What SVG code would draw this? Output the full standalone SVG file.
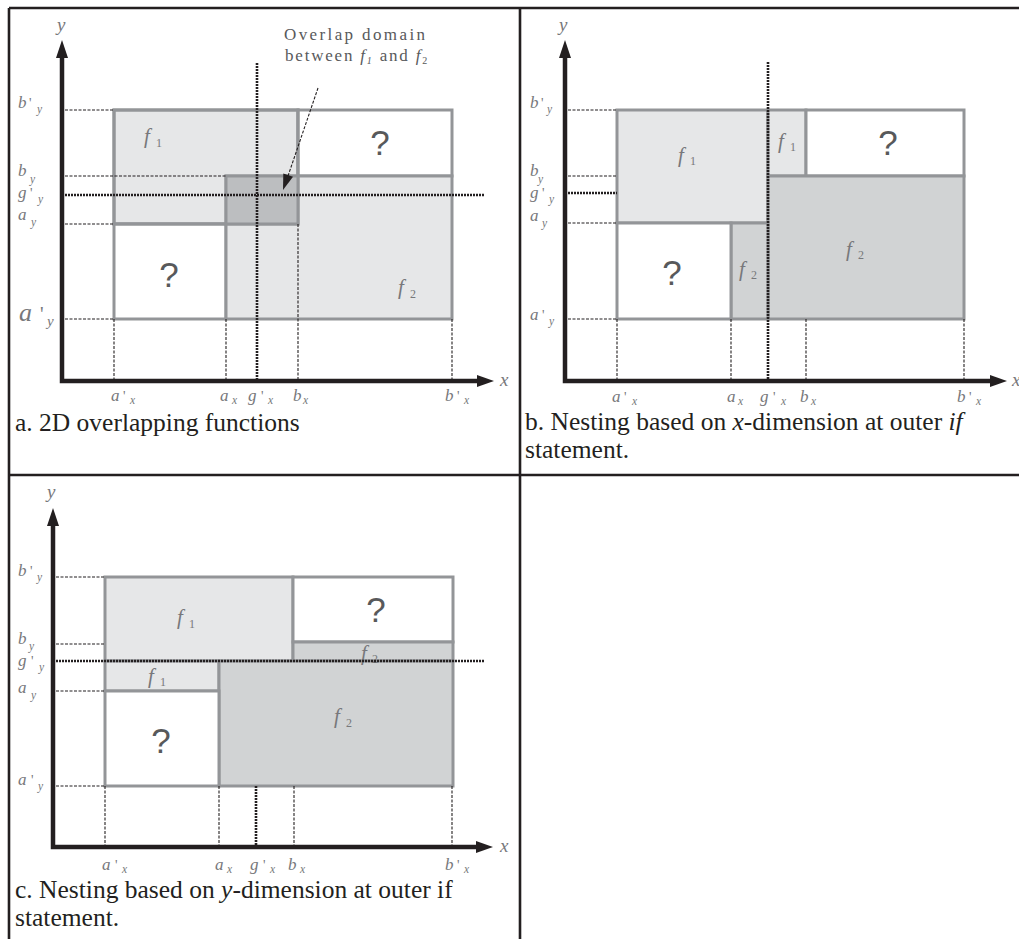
<svg xmlns="http://www.w3.org/2000/svg" width="1019" height="939" viewBox="0 0 1019 939">
  <style>
    .frame { stroke: #231f20; stroke-width: 2.6; fill: none; }
    .axis { stroke: #231f20; stroke-width: 4.5; fill: none; stroke-linejoin: miter; stroke-linecap: square; }
    .head { fill: #231f20; }
    .box { stroke: #939598; stroke-width: 3; }
    .white { fill: #ffffff; }
    .light { fill: #e6e7e8; }
    .mid { fill: #d1d3d4; }
    .dark { fill: #bcbec0; }
    .guide { stroke: #231f20; stroke-width: 1.1; stroke-dasharray: 3 1.5; fill: none; }
    .gline { stroke: #231f20; stroke-width: 2.6; stroke-dasharray: 2 1; fill: none; }
    .lbl { font-family: "Liberation Serif", "Times New Roman", serif; font-style: italic; font-size: 17px; fill: #77787b; }
    .big { font-size: 26px; }
    .sub { font-size: 11.5px; }
    .pr { font-style: normal; font-size: 14px; }
    .ax { font-family: "Liberation Serif", "Times New Roman", serif; font-style: italic; font-size: 19px; fill: #77787b; }
    .fn { font-family: "Liberation Serif", "Times New Roman", serif; font-style: italic; font-size: 21px; fill: #77787b; }
    .fs { font-style: normal; font-size: 12px; }
    .q { font-family: "Liberation Sans", Arial, sans-serif; font-size: 35px; fill: #58595b; text-anchor: middle; }
    .cap { font-family: "Liberation Serif", "Times New Roman", serif; font-size: 25.5px; fill: #231f20; }
    .note { font-family: "Liberation Serif", "Times New Roman", serif; font-size: 17px; fill: #58595b; }
  </style>

  <!-- table frame -->
  <g id="frame">
    <line class="frame" x1="9" y1="8" x2="1019" y2="8"/>
    <line class="frame" x1="9" y1="8" x2="9" y2="939"/>
    <line class="frame" x1="520" y1="8" x2="520" y2="939"/>
    <line class="frame" x1="9" y1="475" x2="1019" y2="475"/>
  </g>

  <!-- ===== panel a: two overlapping function domains ===== -->
  <g id="panel-a">
    <g id="a-f1"><rect class="box light" x="114" y="110" width="184" height="114"/></g>
    <g id="a-q-top"><rect class="box white" x="298" y="110" width="154" height="66"/></g>
    <g id="a-q-bottom"><rect class="box white" x="114" y="224" width="112" height="95"/></g>
    <g id="a-f2"><rect class="box light" x="226" y="176" width="226" height="143"/></g>
    <g id="a-f1-edge"><rect class="box" fill="none" x="114" y="110" width="184" height="114"/></g>
    <g id="a-overlap"><rect class="box dark" x="226" y="176" width="72" height="48"/></g>

    <g id="a-connectors">
      <line class="guide" x1="65" y1="110" x2="114" y2="110"/>
      <line class="guide" x1="65" y1="176" x2="226" y2="176"/>
      <line class="guide" x1="65" y1="224" x2="114" y2="224"/>
      <line class="guide" x1="65" y1="319" x2="114" y2="319"/>
      <line class="guide" x1="114" y1="319" x2="114" y2="380"/>
      <line class="guide" x1="226" y1="319" x2="226" y2="380"/>
      <line class="guide" x1="298" y1="224" x2="298" y2="380"/>
      <line class="guide" x1="452" y1="319" x2="452" y2="380"/>
      <line class="gline" x1="65" y1="195" x2="484" y2="195"/>
      <line class="gline" x1="257" y1="63" x2="257" y2="380"/>
      <polyline class="axis" points="62,57 62,381 478,381"/>
      <polygon class="head" points="62,40 56,58 68,58"/>
      <polygon class="head" points="494,381 477,375 477,387"/>
      <!-- leader to the overlap domain -->
      <line class="guide" x1="318" y1="88" x2="288" y2="176" stroke-dasharray="2 1.5"/>
      <polygon class="head" points="283,190 283.3,173.5 293,176.8"/>
    </g>

    <text class="ax" x="57" y="31">y</text>
    <text class="ax" x="500" y="386">x</text>

    <text class="lbl" x="18" y="108">b<tspan class="pr" x="29">'</tspan><tspan class="sub" x="37" y="113">y</tspan></text>
    <text class="lbl" x="18" y="176">b<tspan class="sub" x="30" y="183">y</tspan></text>
    <text class="lbl" x="18" y="198">g<tspan class="pr" x="30">'</tspan><tspan class="sub" x="38" y="203">y</tspan></text>
    <text class="lbl" x="18" y="220">a<tspan class="sub" x="31" y="226">y</tspan></text>
    <text class="lbl big" x="19" y="321">a<tspan class="pr" x="40" style="font-size:20px">'</tspan><tspan class="sub" x="47" y="326" style="font-size:15px">y</tspan></text>

    <text class="lbl" x="111" y="401">a<tspan class="pr" x="123">'</tspan><tspan class="sub" x="130" y="404">x</tspan></text>
    <text class="lbl" x="220" y="401">a<tspan class="sub" x="232" y="404">x</tspan></text>
    <text class="lbl" x="248" y="401">g<tspan class="pr" x="261">'</tspan><tspan class="sub" x="268" y="404">x</tspan></text>
    <text class="lbl" x="293" y="401">b<tspan class="sub" x="303" y="404">x</tspan></text>
    <text class="lbl" x="445" y="401">b<tspan class="pr" x="457">'</tspan><tspan class="sub" x="464" y="404">x</tspan></text>

    <text class="fn" x="144" y="143">f<tspan class="fs" x="156" y="147">1</tspan></text>
    <text class="fn" x="398" y="294">f<tspan class="fs" x="410" y="298">2</tspan></text>
    <text class="q" x="380" y="155">?</text>
    <text class="q" x="169" y="287">?</text>

    <text class="note" x="284" y="40" textLength="141" lengthAdjust="spacing">Overlap domain</text>
    <text class="note" x="285" y="61" letter-spacing="1.8">between <tspan font-style="italic">f</tspan><tspan dy="3" style="font-size:10px;font-style:italic">1</tspan><tspan dy="-3"> and </tspan><tspan font-style="italic">f</tspan><tspan dy="3" style="font-size:10px">2</tspan></text>

    <text class="cap" x="15" y="431">a. 2D overlapping functions</text>
  </g>

  <!-- ===== panel b: nesting on x at the outer test ===== -->
  <g id="panel-b">
    <g id="b-f1"><rect class="box light" x="617" y="110" width="151" height="113"/></g>
    <g id="b-f1-small"><rect class="box light" x="768" y="110" width="38" height="66"/></g>
    <g id="b-q-top"><rect class="box white" x="806" y="110" width="158" height="66"/></g>
    <g id="b-f2"><rect class="box mid" x="768" y="176" width="196" height="143"/></g>
    <g id="b-f2-small"><rect class="box mid" x="731" y="223" width="37" height="96"/></g>
    <g id="b-q-bottom"><rect class="box white" x="617" y="223" width="114" height="96"/></g>

    <g id="b-connectors">
      <line class="guide" x1="568" y1="110" x2="617" y2="110"/>
      <line class="guide" x1="568" y1="176" x2="617" y2="176"/>
      <line class="guide" x1="568" y1="223" x2="617" y2="223"/>
      <line class="guide" x1="568" y1="319" x2="617" y2="319"/>
      <line class="guide" x1="617" y1="319" x2="617" y2="380"/>
      <line class="guide" x1="731" y1="319" x2="731" y2="380"/>
      <line class="guide" x1="806" y1="319" x2="806" y2="380"/>
      <line class="guide" x1="964" y1="319" x2="964" y2="380"/>
      <line class="gline" x1="568" y1="193" x2="617" y2="193"/>
      <line class="gline" x1="768" y1="62" x2="768" y2="380"/>
      <polyline class="axis" points="565,57 565,381 990,381"/>
      <polygon class="head" points="565,40 559,58 571,58"/>
      <polygon class="head" points="1007,381 990,375 990,387"/>
    </g>

    <text class="ax" x="559" y="31">y</text>
    <text class="ax" x="1012" y="386">x</text>

    <text class="lbl" x="530" y="108">b<tspan class="pr" x="541">'</tspan><tspan class="sub" x="547" y="113">y</tspan></text>
    <text class="lbl" x="530" y="176">b<tspan class="sub" x="538" y="183">y</tspan></text>
    <text class="lbl" x="530" y="198">g<tspan class="pr" x="542">'</tspan><tspan class="sub" x="549" y="203">y</tspan></text>
    <text class="lbl" x="530" y="221">a<tspan class="sub" x="542" y="227">y</tspan></text>
    <text class="lbl" x="530" y="320">a<tspan class="pr" x="542">'</tspan><tspan class="sub" x="549" y="325">y</tspan></text>

    <text class="lbl" x="612" y="402">a<tspan class="pr" x="624">'</tspan><tspan class="sub" x="632" y="405">x</tspan></text>
    <text class="lbl" x="727" y="402">a<tspan class="sub" x="738" y="405">x</tspan></text>
    <text class="lbl" x="760" y="402">g<tspan class="pr" x="773">'</tspan><tspan class="sub" x="781" y="405">x</tspan></text>
    <text class="lbl" x="800" y="402">b<tspan class="sub" x="811" y="405">x</tspan></text>
    <text class="lbl" x="957" y="402">b<tspan class="pr" x="969">'</tspan><tspan class="sub" x="976" y="405">x</tspan></text>

    <text class="fn" x="678" y="162">f<tspan class="fs" x="690" y="165">1</tspan></text>
    <text class="fn" x="778" y="148">f<tspan class="fs" x="790" y="151">1</tspan></text>
    <text class="fn" x="739" y="276">f<tspan class="fs" x="751" y="279">2</tspan></text>
    <text class="fn" x="846" y="256">f<tspan class="fs" x="858" y="259">2</tspan></text>
    <text class="q" x="888" y="155">?</text>
    <text class="q" x="672" y="285">?</text>

    <text class="cap" x="525" y="430">b. Nesting based on <tspan font-style="italic">x</tspan>-dimension at outer <tspan font-style="italic">if</tspan></text>
    <text class="cap" x="525" y="458">statement.</text>
  </g>

  <!-- ===== panel c: nesting on y at the outer test ===== -->
  <g id="panel-c">
    <g id="c-f1"><rect class="box light" x="105" y="577" width="188" height="84"/></g>
    <g id="c-q-top"><rect class="box white" x="293" y="577" width="160" height="65"/></g>
    <g id="c-f2-small"><rect class="box mid" x="293" y="642" width="160" height="19"/></g>
    <g id="c-f1-small"><rect class="box light" x="105" y="661" width="114" height="30"/></g>
    <g id="c-f2"><rect class="box mid" x="219" y="661" width="234" height="125"/></g>
    <g id="c-q-bottom"><rect class="box white" x="105" y="691" width="114" height="95"/></g>

    <text class="fn" x="361" y="660">f<tspan class="fs" x="372" y="663">2</tspan></text>

    <g id="c-connectors">
      <line class="guide" x1="56" y1="577" x2="105" y2="577"/>
      <line class="guide" x1="56" y1="644" x2="105" y2="644"/>
      <line class="guide" x1="56" y1="691" x2="105" y2="691"/>
      <line class="guide" x1="56" y1="786" x2="105" y2="786"/>
      <line class="guide" x1="105" y1="786" x2="105" y2="846"/>
      <line class="guide" x1="219" y1="786" x2="219" y2="846"/>
      <line class="guide" x1="294" y1="786" x2="294" y2="846"/>
      <line class="guide" x1="452" y1="786" x2="452" y2="846"/>
      <line class="gline" x1="56" y1="661" x2="484" y2="661"/>
      <line class="gline" x1="256" y1="786" x2="256" y2="846"/>
      <polyline class="axis" points="53,525 53,847 477,847"/>
      <polygon class="head" points="53,508 47,526 59,526"/>
      <polygon class="head" points="493,847 476,841 476,853"/>
    </g>

    <text class="ax" x="47" y="498">y</text>
    <text class="ax" x="500" y="852">x</text>

    <text class="lbl" x="18" y="576">b<tspan class="pr" x="30">'</tspan><tspan class="sub" x="37" y="581">y</tspan></text>
    <text class="lbl" x="18" y="644">b<tspan class="sub" x="29" y="650">y</tspan></text>
    <text class="lbl" x="18" y="666">g<tspan class="pr" x="31">'</tspan><tspan class="sub" x="39" y="671">y</tspan></text>
    <text class="lbl" x="18" y="693">a<tspan class="sub" x="31" y="699">y</tspan></text>
    <text class="lbl" x="18" y="785">a<tspan class="pr" x="31">'</tspan><tspan class="sub" x="38" y="790">y</tspan></text>

    <text class="lbl" x="102" y="870">a<tspan class="pr" x="115">'</tspan><tspan class="sub" x="122" y="873">x</tspan></text>
    <text class="lbl" x="215" y="870">a<tspan class="sub" x="227" y="873">x</tspan></text>
    <text class="lbl" x="250" y="870">g<tspan class="pr" x="263">'</tspan><tspan class="sub" x="270" y="873">x</tspan></text>
    <text class="lbl" x="288" y="870">b<tspan class="sub" x="300" y="873">x</tspan></text>
    <text class="lbl" x="445" y="870">b<tspan class="pr" x="457">'</tspan><tspan class="sub" x="464" y="873">x</tspan></text>

    <text class="fn" x="177" y="624">f<tspan class="fs" x="189" y="628">1</tspan></text>
    <text class="fn" x="148" y="683">f<tspan class="fs" x="160" y="686">1</tspan></text>
    <text class="fn" x="334" y="723">f<tspan class="fs" x="346" y="727">2</tspan></text>
    <text class="q" x="376" y="622">?</text>
    <text class="q" x="161" y="753">?</text>

    <text class="cap" x="15" y="898">c. Nesting based on <tspan font-style="italic">y</tspan>-dimension at outer if</text>
    <text class="cap" x="15" y="926">statement.</text>
  </g>
</svg>
